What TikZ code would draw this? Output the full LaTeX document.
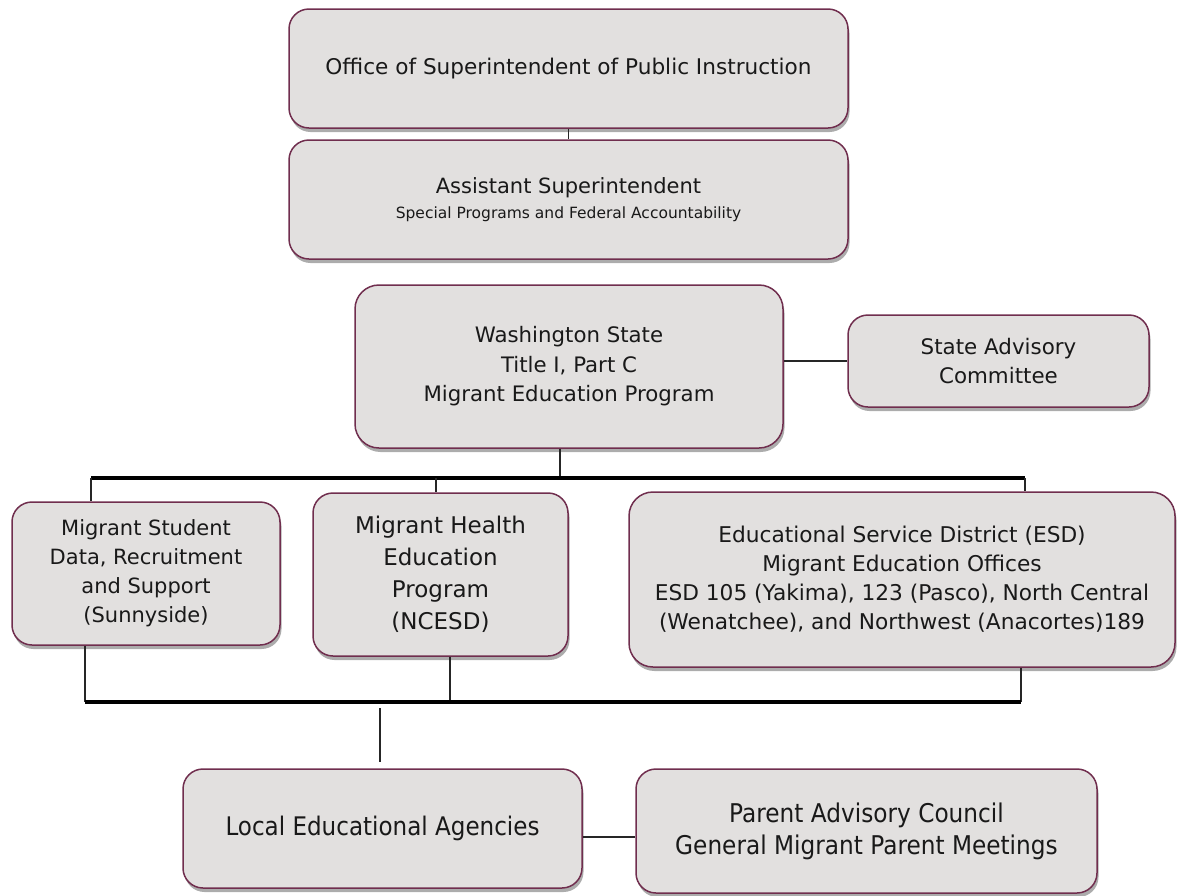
\documentclass[tikz,border=0pt]{standalone}
\usepackage{fontspec}
\setmainfont{DejaVu Sans}
\newfontfamily\condfont[FakeStretch=0.9]{DejaVu Sans}
\usetikzlibrary{shadows}
\definecolor{boxfill}{RGB}{226,224,223}
\definecolor{boxline}{RGB}{112,46,78}
\definecolor{txt}{RGB}{25,25,25}
\tikzset{
  orgbox/.style={draw=boxline, fill=boxfill, rounded corners=20pt, line width=1.5pt,
    align=center, inner sep=0pt, text=txt,
    drop shadow={shadow xshift=1.5pt, shadow yshift=-4pt, opacity=0.5, fill=black!65}},
  conn/.style={line width=1.1pt, draw=black!85},
  bus/.style={line width=3.4pt, draw=black},
}
\begin{document}
\begin{tikzpicture}[x=1pt, y=-1pt]
\useasboundingbox (0,0) rectangle (1179,895);

\node[orgbox, minimum width=559pt, minimum height=119pt, font=\fontsize{21.6}{29}\selectfont]
  (ospi) at (568.5,68.5) {Office of Superintendent of Public Instruction};
\node[orgbox, minimum width=559pt, minimum height=119pt, font=\fontsize{21}{25}\selectfont]
  (asst) at (568.5,199.5) {Assistant Superintendent\\\fontsize{15.5}{25}\selectfont Special Programs and Federal Accountability};
\node[orgbox, minimum width=428pt, minimum height=163pt, rounded corners=24pt, font=\fontsize{21.3}{29.5}\selectfont]
  (wa) at (569,366.5) {Washington State\\Title I, Part C\\Migrant Education Program};
\node[orgbox, minimum width=301pt, minimum height=92pt, font=\fontsize{21.4}{29}\selectfont]
  (sac) at (998.5,361) {State Advisory\\Committee};
\node[orgbox, minimum width=268pt, minimum height=143pt, font=\fontsize{21}{29}\selectfont]
  (msd) at (146,573.5) {Migrant Student\\Data, Recruitment\\and Support\\(Sunnyside)};
\node[orgbox, minimum width=255pt, minimum height=163pt, font=\fontsize{23}{32}\selectfont]
  (mhe) at (440.5,574.5) {Migrant Health\\Education\\Program\\(NCESD)};
\node[orgbox, minimum width=546pt, minimum height=175pt, rounded corners=24pt, font=\fontsize{21.7}{29}\selectfont]
  (esd) at (902,579.5) {Educational Service District (ESD)\\Migrant Education Offices\\ESD 105 (Yakima), 123 (Pasco), North Central\\(Wenatchee), and Northwest (Anacortes)189};
\node[orgbox, minimum width=399pt, minimum height=119pt, font=\condfont\fontsize{25.6}{32}\selectfont]
  (lea) at (382.5,828.5) {Local Educational Agencies};
\node[orgbox, minimum width=461pt, minimum height=124pt, font=\condfont\fontsize{25.8}{32}\selectfont]
  (pac) at (866.5,831) {Parent Advisory Council\\General Migrant Parent Meetings};

% top connectors
\draw[conn] (ospi.south) -- (asst.north);
\draw[conn] (sac.west -| wa.east) -- (sac.west);

% upper bus
\coordinate (tw) at (560,478);
\coordinate (tl) at (91,478);
\coordinate (tm) at (436,478);
\coordinate (tr) at (1025,478);
\draw[conn] (tw |- wa.south) -- (tw);
\draw[bus] (tl) -- (tr);
\draw[conn] (tl) -- (tl |- msd.north);
\draw[conn] (tm) -- (tm |- mhe.north);
\draw[conn] (tr) -- (tr |- esd.north);

% lower bus
\coordinate (bl) at (85,702);
\coordinate (bm) at (450,702);
\coordinate (br) at (1021,702);
\draw[conn] (bl |- msd.south) -- (bl);
\draw[conn] (bm |- mhe.south) -- (bm);
\draw[conn] (br |- esd.south) -- (br);
\draw[bus] (bl) -- (br);

% to local agencies
\coordinate (lv) at (380,708);
\draw[conn, shorten >=6pt] (lv) -- (lv |- lea.north);
\coordinate (lp) at (600,837);
\draw[conn] (lea.east |- lp) -- (pac.west |- lp);
\end{tikzpicture}
\end{document}
